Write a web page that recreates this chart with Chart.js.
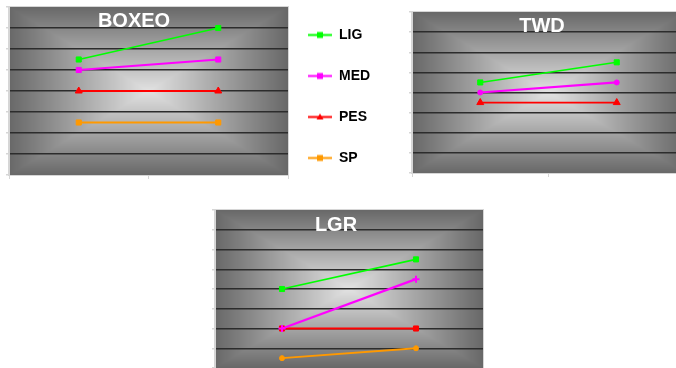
<!DOCTYPE html>
<html lang="es">
<head>
<meta charset="UTF-8">
<title>BOXEO / TWD / LGR</title>
<script src="https://cdn.jsdelivr.net/npm/chart.js"></script>
<style>
  html, body {
    margin: 0;
    padding: 0;
    background: #fff;
    overflow: hidden;
    width: 676px;
    height: 368px;
  }
  canvas {
    position: absolute;
  }
</style>
</head>
<body>

<canvas id="boxeo" width="295" height="185" style="left:0;top:0"></canvas>
<canvas id="twd" width="290" height="185" style="left:405px;top:0"></canvas>
<canvas id="lgr" width="290" height="185" style="left:205px;top:200px"></canvas>
<canvas id="legend" width="260" height="240" style="left:281px;top:1px"></canvas>

<script>
  // datos (escala 0 - 8, una linea de rejilla por unidad)
  const series = ['LIG', 'MED', 'PES', 'SP'];
  const categories = ['1', '2'];
  const yMin = 0;
  const yMax = 8;
  const yStep = 1;

  const boxeoValues = [[5.5, 7], [5, 5.5], [4, 4], [2.5, 2.5]];
  const twdValues = [[4.5, 5.5], [4, 4.5], [3.5, 3.5], [null, null]];
  const lgrValues = [[4, 5.5], [2, 4.5], [2, 2], [0.5, 1]];

  // estilo
  const seriesColors = ['#00ff00', '#ff00ff', '#ff0000', '#ff9900'];
  const lineWidths = [1.6, 2.2, 1.8, 2];
  const radiusFor = { rect: 3.6, triangle: 4, circle: 2.5, cross: 3.5 };

  Chart.defaults.font.family = '"Liberation Sans", Arial, sans-serif';

  // fondo gris con degradado rectangular desde el centro (pixel a pixel)
  const panelBackground = {
    id: 'panelBackground',
    beforeDraw(chart) {
      const a = chart.chartArea;
      const ctx = chart.ctx;
      const w = Math.round(a.right - a.left);
      const h = Math.round(a.bottom - a.top);
      const off = document.createElement('canvas');
      off.width = w;
      off.height = h;
      const octx = off.getContext('2d');
      const img = octx.createImageData(w, h);
      const edge = 0x68;
      const center = 0xe2;
      for (let y = 0; y < h; y++) {
        const dy = Math.abs((y + 0.5) - h / 2) / (h / 2);
        for (let x = 0; x < w; x++) {
          const dx = Math.abs((x + 0.5) - w / 2) / (w / 2);
          const t = Math.max(dx, dy);
          const v = Math.round(center + (edge - center) * t);
          const k = (y * w + x) * 4;
          img.data[k] = v;
          img.data[k + 1] = v;
          img.data[k + 2] = v;
          img.data[k + 3] = 255;
        }
      }
      octx.putImageData(img, 0, 0);
      ctx.save();
      ctx.drawImage(off, a.left, a.top);
      ctx.strokeStyle = '#d6d6d6';
      ctx.lineWidth = 1;
      ctx.strokeRect(a.left - 0.5, a.top - 0.5, w + 1, h + 1);
      ctx.restore();
    }
  };

  // titulo blanco dentro del area
  const panelTitle = {
    id: 'panelTitle',
    beforeDatasetsDraw(chart, args, opts) {
      const a = chart.chartArea;
      const ctx = chart.ctx;
      ctx.save();
      ctx.font = 'bold 20px "Liberation Sans", Arial, sans-serif';
      ctx.fillStyle = '#ffffff';
      ctx.textAlign = 'center';
      ctx.textBaseline = 'alphabetic';
      ctx.fillText(opts.text, a.left + opts.x, a.top + opts.y);
      ctx.restore();
    }
  };

  function makePanel(id, title, titleX, titleY, values, markers, pad) {
    return new Chart(document.getElementById(id), {
      type: 'line',
      data: {
        labels: categories,
        datasets: series.map((s, i) => ({
          label: s,
          data: values[i],
          borderColor: seriesColors[i],
          backgroundColor: seriesColors[i],
          borderWidth: lineWidths[i],
          pointStyle: markers[i],
          pointRadius: radiusFor[markers[i]],
          pointBorderWidth: markers[i] === 'cross' ? 2 : 1,
          tension: 0,
          fill: false
        }))
      },
      options: {
        responsive: false,
        animation: false,
        events: [],
        layout: { padding: pad },
        plugins: {
          legend: { display: false },
          tooltip: { enabled: false },
          panelTitle: { text: title, x: titleX, y: titleY }
        },
        scales: {
          x: {
            type: 'category',
            offset: true,
            ticks: { display: false },
            grid: { offset: true, drawOnChartArea: false, tickLength: 4, tickColor: '#d6d6d6' },
            border: { color: '#d6d6d6' },
            afterFit: s => { s.height = 4; }
          },
          y: {
            min: yMin,
            max: yMax,
            ticks: { display: false, stepSize: yStep },
            grid: {
              color: c => (c.tick && c.tick.value > yMin && c.tick.value < yMax) ? '#2c2c2c' : 'rgba(0,0,0,0)',
              lineWidth: 1.5,
              tickLength: 3,
              tickColor: '#d6d6d6'
            },
            border: { color: '#d6d6d6' },
            afterFit: s => { s.width = 4; }
          }
        }
      },
      plugins: [panelBackground, panelTitle]
    });
  }

  makePanel('boxeo', 'BOXEO', 125, 20, boxeoValues,
    ['rect', 'rect', 'triangle', 'rect'], { left: 5, right: 7, top: 7, bottom: 6 });
  makePanel('twd', 'TWD', 130, 20, twdValues,
    ['rect', 'circle', 'triangle', 'rect'], { left: 3, right: 10, top: 12, bottom: 8 });
  makePanel('lgr', 'LGR', 121, 21, lgrValues,
    ['rect', 'cross', 'rect', 'circle'], { left: 6, right: 12, top: 10, bottom: 13 });

  // leyenda: linea con marcador
  const legendMarkers = ['rect', 'rect', 'triangle', 'rect'];
  function legendIcon(color, style) {
    const c = document.createElement('canvas');
    c.width = 24;
    c.height = 9;
    const g = c.getContext('2d');
    g.strokeStyle = color;
    g.lineWidth = 2;
    g.beginPath();
    g.moveTo(0, 4.5);
    g.lineTo(24, 4.5);
    g.stroke();
    g.fillStyle = color;
    if (style === 'triangle') {
      g.beginPath();
      g.moveTo(12, 1);
      g.lineTo(15.5, 7);
      g.lineTo(8.5, 7);
      g.closePath();
      g.fill();
    } else {
      g.fillRect(9, 1.5, 6, 6);
    }
    return c;
  }
  const legendIcons = series.map((s, i) => legendIcon(seriesColors[i], legendMarkers[i]));

  new Chart(document.getElementById('legend'), {
    type: 'line',
    data: {
      labels: categories,
      datasets: series.map((s, i) => ({ label: s, data: [], borderColor: seriesColors[i] }))
    },
    options: {
      responsive: false,
      animation: false,
      events: [],
      layout: { padding: 0 },
      scales: { x: { display: false }, y: { display: false } },
      plugins: {
        tooltip: { enabled: false },
        legend: {
          position: 'left',
          align: 'start',
          labels: {
            usePointStyle: true,
            pointStyleWidth: 24,
            padding: 27,
            color: '#000',
            font: { size: 14, weight: 'bold' },
            generateLabels: () => series.map((s, i) => ({
              text: s,
              pointStyle: legendIcons[i],
              fillStyle: seriesColors[i],
              strokeStyle: seriesColors[i],
              lineWidth: 0,
              hidden: false,
              datasetIndex: i
            }))
          }
        }
      }
    }
  });
</script>

</body>
</html>
